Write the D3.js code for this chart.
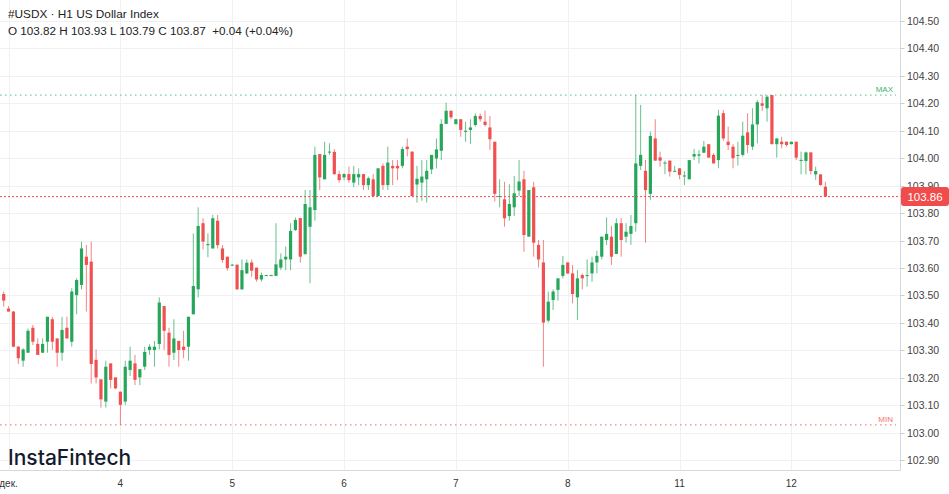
<!DOCTYPE html>
<html>
<head>
<meta charset="utf-8">
<script src="https://cdn.jsdelivr.net/npm/d3@7"></script>
<style>
  html, body { margin: 0; padding: 0; background: #fff; }
  svg { display: block; font-family: 'Liberation Sans', Arial, sans-serif; }
</style>
</head>
<body>
<svg id="chart" width="949" height="494" viewBox="0 0 949 494"></svg>
<script>
'use strict';

/* global d3 */

// hourly candles, Dec 1 (last bar) .. Dec 12, 23 bars per trading day
var opens = [
  103.505, 103.452, 103.441, 103.313, 103.262, 103.291, 103.382, 103.323, 103.291, 103.331,
  103.413, 103.343, 103.291, 103.382, 103.331, 103.501, 103.538, 103.641, 103.623, 103.265,
  103.194, 103.113, 103.252, 103.201, 103.149, 103.113, 103.228, 103.252, 103.201, 103.240,
  103.301, 103.301, 103.323, 103.461, 103.364, 103.291, 103.334, 103.313, 103.313, 103.431,
  103.522, 103.763, 103.683, 103.671, 103.772, 103.671, 103.641, 103.610, 103.612, 103.522,
  103.580, 103.620, 103.601, 103.558, 103.573, 103.573, 103.571, 103.601, 103.631, 103.631,
  103.738, 103.782, 103.650, 103.750, 103.811, 104.015, 103.923, 104.022, 104.023, 103.942,
  103.930, 103.942, 103.911, 103.930, 103.942, 103.902, 103.923, 103.862, 103.972, 103.902,
  103.972, 103.972, 103.972, 104.042, 104.024, 103.904, 103.911, 103.923, 103.959, 103.999,
  104.027, 104.125, 104.173, 104.124, 104.142, 104.096, 104.103, 104.121, 104.154, 104.133,
  104.112, 104.060, 103.860, 103.850, 103.789, 103.821, 103.882, 103.923, 103.714, 103.894,
  103.684, 103.620, 103.408, 103.483, 103.520, 103.571, 103.620, 103.580, 103.493, 103.574,
  103.572, 103.580, 103.620, 103.641, 103.702, 103.714, 103.651, 103.763, 103.714, 103.724,
  103.763, 103.972, 103.954, 103.870, 104.072, 104.003, 103.982, 103.991, 103.951, 103.963,
  103.934, 103.923, 104.006, 104.009, 104.020, 104.051, 104.012, 103.993, 104.164, 104.060,
  104.042, 104.010, 104.012, 104.094, 104.042, 104.123, 104.200, 104.182, 104.230, 104.051,
  104.060, 104.060, 104.051, 104.060, 103.990, 103.990, 104.021, 103.941, 103.941, 103.896
];
var highs = [
  103.514, 103.461, 103.443, 103.316, 103.307, 103.379, 103.392, 103.343, 103.343, 103.422,
  103.422, 103.343, 103.422, 103.422, 103.526, 103.562, 103.696, 103.684, 103.696, 103.303,
  103.194, 103.262, 103.252, 103.201, 103.149, 103.262, 103.313, 103.283, 103.231, 103.313,
  103.322, 103.334, 103.493, 103.461, 103.382, 103.413, 103.334, 103.371, 103.422, 103.726,
  103.821, 103.781, 103.726, 103.793, 103.793, 103.684, 103.641, 103.614, 103.612, 103.631,
  103.631, 103.631, 103.601, 103.583, 103.575, 103.575, 103.763, 103.653, 103.678, 103.763,
  103.784, 103.782, 103.884, 103.884, 104.042, 104.015, 104.060, 104.054, 104.033, 103.954,
  103.945, 103.969, 103.972, 103.963, 103.942, 103.933, 103.942, 103.963, 103.981, 104.042,
  103.993, 103.993, 104.042, 104.072, 104.024, 103.972, 103.993, 103.993, 104.012, 104.072,
  104.142, 104.202, 104.173, 104.142, 104.142, 104.133, 104.142, 104.163, 104.163, 104.173,
  104.154, 104.060, 103.923, 103.914, 103.905, 103.935, 103.993, 103.954, 103.884, 103.914,
  103.702, 103.702, 103.514, 103.522, 103.562, 103.644, 103.620, 103.611, 103.592, 103.580,
  103.631, 103.641, 103.663, 103.714, 103.784, 103.753, 103.781, 103.781, 103.763, 103.793,
  104.230, 104.194, 103.993, 104.097, 104.142, 104.024, 103.991, 103.993, 103.972, 103.963,
  103.953, 103.993, 104.034, 104.030, 104.063, 104.051, 104.018, 104.176, 104.176, 104.115,
  104.051, 104.060, 104.133, 104.164, 104.182, 104.212, 104.230, 104.230, 104.230, 104.072,
  104.078, 104.060, 104.060, 104.060, 104.024, 104.024, 104.021, 103.969, 103.941, 103.914
];
var lows = [
  103.459, 103.441, 103.311, 103.250, 103.240, 103.291, 103.319, 103.283, 103.291, 103.291,
  103.301, 103.240, 103.262, 103.343, 103.313, 103.431, 103.522, 103.441, 103.179, 103.179,
  103.091, 103.091, 103.161, 103.158, 103.028, 103.101, 103.206, 103.173, 103.173, 103.228,
  103.283, 103.240, 103.303, 103.301, 103.240, 103.265, 103.240, 103.271, 103.262, 103.431,
  103.493, 103.668, 103.639, 103.671, 103.671, 103.619, 103.590, 103.608, 103.520, 103.520,
  103.578, 103.568, 103.550, 103.550, 103.572, 103.572, 103.571, 103.592, 103.592, 103.592,
  103.735, 103.619, 103.650, 103.544, 103.772, 103.884, 103.923, 104.012, 103.939, 103.911,
  103.920, 103.911, 103.894, 103.902, 103.884, 103.884, 103.860, 103.860, 103.884, 103.884,
  103.902, 103.920, 103.963, 104.006, 103.860, 103.838, 103.845, 103.838, 103.942, 103.963,
  103.993, 104.125, 104.142, 104.124, 104.078, 104.060, 104.052, 104.115, 104.133, 104.115,
  104.030, 103.842, 103.821, 103.750, 103.772, 103.789, 103.862, 103.659, 103.714, 103.641,
  103.602, 103.240, 103.401, 103.447, 103.481, 103.562, 103.578, 103.471, 103.410, 103.522,
  103.532, 103.550, 103.580, 103.631, 103.684, 103.611, 103.651, 103.641, 103.692, 103.684,
  103.732, 103.957, 103.692, 103.848, 103.991, 103.969, 103.942, 103.933, 103.951, 103.923,
  103.902, 103.923, 103.993, 103.981, 104.018, 104.002, 103.981, 103.963, 104.063, 104.030,
  103.963, 103.973, 104.006, 104.018, 104.030, 104.054, 104.172, 104.133, 104.051, 104.002,
  104.036, 104.042, 104.051, 103.993, 103.941, 103.941, 103.941, 103.921, 103.900, 103.860
];
var closes = [
  103.481, 103.441, 103.313, 103.271, 103.303, 103.371, 103.331, 103.283, 103.323, 103.422,
  103.331, 103.291, 103.374, 103.343, 103.514, 103.556, 103.671, 103.611, 103.250, 103.201,
  103.121, 103.240, 103.192, 103.161, 103.101, 103.240, 103.262, 103.192, 103.231, 103.294,
  103.313, 103.313, 103.474, 103.371, 103.283, 103.343, 103.301, 103.301, 103.422, 103.534,
  103.753, 103.696, 103.687, 103.781, 103.683, 103.629, 103.599, 103.612, 103.522, 103.592,
  103.619, 103.590, 103.558, 103.574, 103.574, 103.574, 103.613, 103.631, 103.641, 103.735,
  103.775, 103.641, 103.833, 103.821, 104.012, 103.930, 104.012, 104.024, 103.942, 103.920,
  103.942, 103.920, 103.942, 103.942, 103.902, 103.927, 103.862, 103.963, 103.902, 103.984,
  103.963, 103.963, 104.033, 104.033, 103.862, 103.925, 103.933, 103.954, 104.012, 104.032,
  104.125, 104.173, 104.149, 104.142, 104.103, 104.100, 104.112, 104.154, 104.142, 104.121,
  104.069, 103.870, 103.862, 103.781, 103.833, 103.872, 103.915, 103.720, 103.884, 103.692,
  103.631, 103.401, 103.477, 103.514, 103.562, 103.611, 103.580, 103.505, 103.562, 103.562,
  103.574, 103.620, 103.644, 103.714, 103.724, 103.641, 103.763, 103.702, 103.732, 103.753,
  103.981, 104.012, 103.884, 104.081, 103.991, 103.991, 103.984, 103.951, 103.954, 103.939,
  103.937, 103.993, 104.015, 104.014, 104.042, 104.002, 103.981, 104.155, 104.072, 104.048,
  104.000, 104.012, 104.082, 104.048, 104.123, 104.204, 104.191, 104.224, 104.051, 104.072,
  104.051, 104.048, 104.060, 104.002, 103.994, 104.021, 103.953, 103.953, 103.902, 103.860
];

var dayLabels = ['дек.', '4', '5', '6', '7', '8', '11', '12'];
var barsPerDay = 23;
var firstDayBar = 1;

var priceTicks = [102.9, 103.0, 103.1, 103.2, 103.3, 103.4, 103.5, 103.6, 103.7, 103.8,
  103.9, 104.0, 104.1, 104.2, 104.3, 104.4, 104.5];

var title = '#USDX · H1 US Dollar Index';
var ohlcLine = 'O 103.82 H 103.93 L 103.79 C 103.87  +0.04 (+0.04%)';

(function () {
  var W = 949;
  var plotRight = 900.5;
  var plotBottom = 470.5;
  var UP = '#26a65b';
  var DOWN = '#f05050';

  var candles = opens.map(function (o, i) {
    return { i: i, o: o, h: highs[i], l: lows[i], c: closes[i] };
  });

  var x = d3.scaleLinear().domain([0, candles.length - 1]).range([3.7, 825.4]);
  var y = d3.scaleLinear().domain([102.9, 104.5]).range([460, 21]);

  var svg = d3.select('#chart');
  svg.append('rect').attr('width', W).attr('height', 494).attr('fill', '#fff');

  // grid
  svg.append('g').selectAll('line').data(priceTicks).enter().append('line')
    .attr('x1', 0).attr('x2', plotRight)
    .attr('y1', function (d) { return Math.round(y(d)) + 0.5; })
    .attr('y2', function (d) { return Math.round(y(d)) + 0.5; })
    .attr('stroke', '#f0f1f3');

  var dayStarts = dayLabels.map(function (d, k) { return firstDayBar + k * barsPerDay; });

  svg.append('g').selectAll('line').data(dayStarts).enter().append('line')
    .attr('x1', function (d) { return Math.round(x(d)) + 0.5; })
    .attr('x2', function (d) { return Math.round(x(d)) + 0.5; })
    .attr('y1', 0).attr('y2', plotBottom)
    .attr('stroke', '#f0f1f3');

  // frame
  svg.append('line').attr('x1', plotRight).attr('x2', plotRight).attr('y1', 0).attr('y2', plotBottom)
    .attr('stroke', '#d5d9de');
  svg.append('line').attr('x1', 0).attr('x2', plotRight).attr('y1', plotBottom).attr('y2', plotBottom)
    .attr('stroke', '#d5d9de');

  // max / min markers
  var maxHigh = d3.max(highs);
  var minLow = d3.min(lows);

  svg.append('line').attr('x1', 0).attr('x2', 896)
    .attr('y1', y(maxHigh)).attr('y2', y(maxHigh))
    .attr('stroke', '#4cbf84').attr('stroke-dasharray', '1.5,3.5');
  svg.append('text').attr('x', 893).attr('y', y(maxHigh) - 3)
    .attr('text-anchor', 'end').attr('font-size', 8).attr('fill', '#3cb371').text('MAX');

  svg.append('line').attr('x1', 0).attr('x2', 896)
    .attr('y1', y(minLow)).attr('y2', y(minLow))
    .attr('stroke', '#f06a6a').attr('stroke-dasharray', '1.5,3.5');
  svg.append('text').attr('x', 893).attr('y', y(minLow) - 3)
    .attr('text-anchor', 'end').attr('font-size', 8).attr('fill', '#f07070').text('MIN');

  // candles
  var g = svg.append('g');
  var bar = g.selectAll('g.candle').data(candles).enter().append('g').attr('class', 'candle');

  bar.append('line')
    .attr('x1', function (d) { return x(d.i); })
    .attr('x2', function (d) { return x(d.i); })
    .attr('y1', function (d) { return y(d.h); })
    .attr('y2', function (d) { return y(d.l); })
    .attr('stroke', function (d) { return d.c >= d.o ? UP : DOWN; })
    .attr('stroke-opacity', 0.7)
    .attr('stroke-width', 1);

  bar.append('rect')
    .attr('x', function (d) { return x(d.i) - 1.6; })
    .attr('width', 3.2)
    .attr('y', function (d) { return y(Math.max(d.o, d.c)); })
    .attr('height', function (d) { return Math.max(1, Math.abs(y(d.o) - y(d.c))); })
    .attr('fill', function (d) { return d.c >= d.o ? UP : DOWN; });

  // last price line
  var last = closes[closes.length - 1];
  svg.append('line').attr('x1', 0).attr('x2', plotRight)
    .attr('y1', y(last)).attr('y2', y(last))
    .attr('stroke', DOWN).attr('stroke-dasharray', '2,2');

  // y axis
  var yAxis = svg.append('g');
  var tick = yAxis.selectAll('g').data(priceTicks).enter().append('g')
    .attr('transform', function (d) { return 'translate(0,' + Math.round(y(d)) + ')'; });
  tick.append('line').attr('x1', plotRight).attr('x2', 904.5).attr('y1', 0.5).attr('y2', 0.5)
    .attr('stroke', '#c9cdd2');
  tick.append('text').attr('x', 907).attr('dy', '0.35em')
    .attr('font-size', 10.5).attr('fill', '#444').text(function (d) { return d.toFixed(2); });

  svg.append('rect').attr('x', 901).attr('y', y(last) - 9.5).attr('width', 48).attr('height', 19)
    .attr('rx', 3).attr('fill', '#f04c4c');
  svg.append('text').attr('x', 925).attr('y', y(last)).attr('dy', '0.36em')
    .attr('text-anchor', 'middle').attr('font-size', 11.5).attr('fill', '#fff').text(last.toFixed(2));

  // x axis
  svg.append('g').selectAll('text').data(dayStarts).enter().append('text')
    .attr('x', function (d) { return x(d); })
    .attr('y', 487)
    .attr('text-anchor', 'middle')
    .attr('font-size', 10)
    .attr('fill', '#333')
    .text(function (d, k) { return dayLabels[k]; });

  // header
  svg.append('text').attr('x', 8).attr('y', 18).attr('font-size', 11.8).attr('fill', '#222').text(title);
  svg.append('text').attr('x', 8).attr('y', 35).attr('font-size', 11.7).attr('fill', '#222')
    .attr('xml:space', 'preserve').style('white-space', 'pre').text(ohlcLine);

  // logo
  svg.append('text').attr('x', 8).attr('y', 465).attr('font-family', 'Inter, Lato, sans-serif')
    .attr('font-size', 21).attr('font-weight', 500).attr('fill', '#151a2d').text('InstaFintech');
})();
</script>
</body>
</html>
